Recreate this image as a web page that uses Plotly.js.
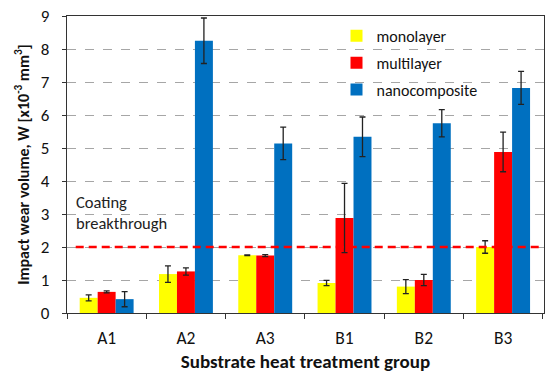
<!DOCTYPE html>
<html>
<head>
<meta charset="utf-8">
<script src="https://cdn.plot.ly/plotly-3.0.1.min.js"></script>
<style>html,body{margin:0;padding:0;background:#fff;}#chart{width:550px;height:376px;}</style>
</head>
<body>
<div id="chart"></div>
<script>
const categories = ["A1", "A2", "A3", "B1", "B2", "B3"];
const monolayer = [0.46, 1.18, 1.75, 0.91, 0.80, 2.00];
const monolayerErr = [0.09, 0.25, 0.01, 0.08, 0.21, 0.19];
const multilayer = [0.64, 1.26, 1.74, 2.88, 1.00, 4.88];
const multilayerErr = [0.03, 0.11, 0.03, 1.05, 0.17, 0.60];
const nanocomposite = [0.42, 8.25, 5.14, 5.34, 5.75, 6.82];
const nanocompositeErr = [0.23, 0.69, 0.49, 0.60, 0.41, 0.50];
const breakthrough = 2;

const FONT = "Carlito, Lato, 'Open Sans', 'DejaVu Sans', sans-serif";
function bar(name, y, err, color) {
  return {
    type: "bar", name: name, x: categories, y: y, legendgroup: name,
    marker: {color: color, line: {width: 0}},
    error_y: {type: "data", array: err, visible: true, color: "#222", thickness: 1.3, width: 3}
  };
}
const data = [
  bar("monolayer", monolayer, monolayerErr, "#FFFF00"),
  bar("multilayer", multilayer, multilayerErr, "#FF0000"),
  bar("nanocomposite", nanocomposite, nanocompositeErr, "#0070C0")
];
const layout = {
  width: 550, height: 376,
  margin: {l: 67, r: 6, t: 16, b: 63},
  paper_bgcolor: "#fff", plot_bgcolor: "#fff",
  font: {family: FONT, size: 16, color: "#111"},
  barmode: "group", bargap: 0.32, bargroupgap: 0,
  showlegend: true,
  legend: {x: 0.565, y: 0.99, xanchor: "left", yanchor: "top", bgcolor: "rgba(0,0,0,0)",
           font: {size: 16, family: FONT}, tracegroupgap: 3, traceorder: "grouped", itemwidth: 30},
  xaxis: {
    type: "category", tickson: "boundaries", ticks: "outside", ticklen: 5, tickcolor: "#333",
    showline: true, linecolor: "#333", linewidth: 1.3, mirror: true, showgrid: false,
    tickfont: {size: 17.5}, ticklabelstandoff: 9,
    title: {text: "Substrate heat treatment group", font: {size: 19, weight: "bold"}, standoff: 6}
  },
  yaxis: {
    range: [0, 9], dtick: 1, showline: true, linecolor: "#333", linewidth: 1.3, mirror: true,
    showgrid: true, gridcolor: "#a6a6a6", griddash: "dash", gridwidth: 1,
    zeroline: false, ticks: "outside", ticklen: 4, tickcolor: "#333", ticklabelstandoff: 9, tickfont: {size: 17},
    title: {text: "Impact wear volume, W [x10<sup>-3</sup> mm<sup>3</sup>]", font: {size: 16, weight: "bold"}, standoff: 7}
  },
  shapes: [{
    type: "line", xref: "x", yref: "y", x0: -0.39, x1: 5.5, y0: breakthrough, y1: breakthrough,
    line: {color: "#FF0000", width: 2.5, dash: "8px,5px"}
  }],
  annotations: [{
    xref: "x", yref: "y", x: -0.41, y: 3.05, xanchor: "left", yanchor: "middle", align: "left",
    text: "Coating<br>breakthrough", showarrow: false, font: {size: 16.5, color: "#222"}
  }]
};
Plotly.newPlot("chart", data, layout, {displayModeBar: false, staticPlot: true});
</script>
</body>
</html>
